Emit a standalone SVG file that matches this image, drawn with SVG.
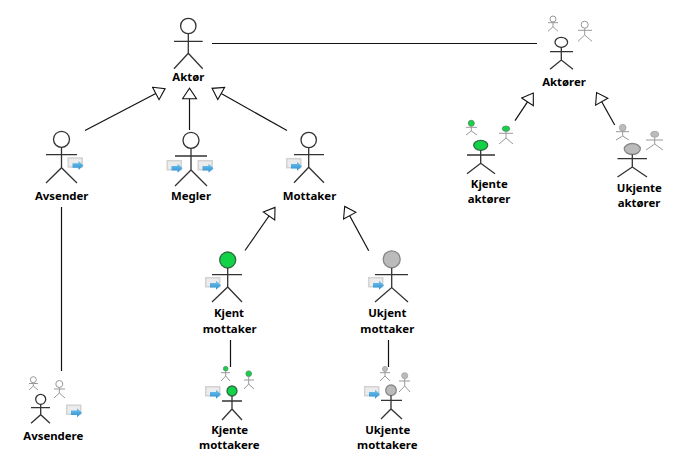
<svg xmlns="http://www.w3.org/2000/svg" width="693" height="467" viewBox="0 0 693 467">
<style>
text{font-family:"Noto Sans","Liberation Sans",Arial,sans-serif;font-weight:700;font-size:11.4px;fill:#000;text-anchor:middle}
.f{fill:none;stroke:#333;stroke-width:1.3}
.s{fill:none;stroke:#999;stroke-width:1}
.h{fill:#fff}
.k{fill:#12d247}
.u{fill:#bbb}
.s.u{stroke:#aaa}
.s.k{stroke:#5a9a6a}
.f.u{stroke:#888}
.f.k{stroke:#2f6a42}
.c{fill:none;stroke:#111;stroke-width:1.2}
.g{marker-end:url(#tri)}
</style>
<defs>
<linearGradient id="blue" x1="0" y1="0" x2="0" y2="1">
<stop offset="0" stop-color="#74c4ee"/>
<stop offset="1" stop-color="#2b8fd2"/>
</linearGradient>
<marker id="tri" markerUnits="userSpaceOnUse" markerWidth="14" markerHeight="18" refX="1" refY="8" orient="auto">
<path d="M1,1 L11.5,8 L1,15 Z" fill="#fff" stroke="#111" stroke-width="1.1"/>
</marker>
<g id="msg">
<rect x="0.7" y="0.7" width="14" height="9" fill="#ececec" stroke="#d2d2d2" stroke-width="1.5"/>
<path d="M5,6 H11 V3.7 L16,8.2 L11,12.7 V10.5 H5 Z" fill="url(#blue)"/>
</g>
</defs>
<g id="connectors">
<path class="c" d="M212,43.5 H537"/>
<path class="c g" d="M85,130.5 L155.8,93.5"/>
<path class="c g" d="M189.5,130 V98.7"/>
<path class="c g" d="M287,130.5 L221.2,93.5"/>
<path class="c g" d="M245,250.5 L269,216"/>
<path class="c g" d="M368.7,250.7 L349.7,215.7"/>
<path class="c g" d="M515,120.7 L527.5,101.8"/>
<path class="c g" d="M614.7,125 L601.7,101.7"/>
<path class="c" d="M61.5,207 V371"/>
<path class="c" d="M230.5,340 V367"/>
<path class="c" d="M388.5,340 V367"/>
</g>
<g id="aktor">
<circle class="f h" cx="188.3" cy="26" r="7.7"/>
<path class="f" d="M188.3,33.7 V53.3 M174,41.3 H202.7 M174,68.7 L188.3,53.3 L202.7,68.7"/>
<text x="188.3" y="81">Aktør</text>
</g>
<g id="avsender">
<circle class="f h" cx="61.5" cy="139.3" r="8"/>
<path class="f" d="M61.5,147.3 V167.7 M46,154.7 H77 M46,183 L61.5,167.7 L77,183"/>
<use href="#msg" x="67.5" y="157.3"/>
<text x="61.7" y="200">Avsender</text>
</g>
<g id="megler">
<circle class="f h" cx="191" cy="140.3" r="8"/>
<path class="f" d="M191,148.3 V170 M175,156 H207 M175,186 L191,170 L207,186"/>
<use href="#msg" x="166.5" y="160"/>
<use href="#msg" x="197.5" y="160"/>
<text x="191" y="200">Megler</text>
</g>
<g id="mottaker">
<circle class="f h" cx="308.7" cy="140" r="7.7"/>
<path class="f" d="M308.7,147.7 V167.3 M294,154.7 H324 M294,182.7 L308.7,167.3 L324,182.7"/>
<use href="#msg" x="286" y="158"/>
<text x="309.5" y="200">Mottaker</text>
</g>
<g id="kjent-mottaker">
<circle class="f k" cx="227.7" cy="260" r="8"/>
<path class="f" d="M227.7,268 V287 M212,274.7 H242 M212,302 L227.7,287 L242,302"/>
<use href="#msg" x="205" y="277"/>
<text x="229" y="317">Kjent</text>
<text x="229.7" y="332.7">mottaker</text>
</g>
<g id="ukjent-mottaker">
<circle class="f u" cx="391.7" cy="259.3" r="8.5"/>
<path class="f" d="M391.7,267.8 V287.5 M375,274.7 H408 M375,302 L391.7,287.5 L408,302"/>
<use href="#msg" x="368" y="277"/>
<text x="387.3" y="317">Ukjent</text>
<text x="387.3" y="333">mottaker</text>
</g>
<g id="avsendere">
<circle class="s h" cx="33.3" cy="379.7" r="3"/>
<path class="s" d="M33.3,382.7 V386 M29,383.5 H38 M29,390 L33.3,386 L38,390"/>
<circle class="s h" cx="59.3" cy="384" r="3.5"/>
<path class="s" d="M59.3,387.5 V393 M54,389 H65 M54,398 L59.3,393 L65,398"/>
<circle class="f h" cx="40.7" cy="399.3" r="5"/>
<path class="f" d="M40.7,404.3 V414.7 M31,407.7 H50 M31,423.3 L40.7,414.7 L50,423.3"/>
<use href="#msg" x="66" y="404.5"/>
<text x="53.3" y="439.7">Avsendere</text>
</g>
<g id="kjente-mottakere">
<circle class="s k" cx="225.7" cy="368.7" r="2.3"/>
<path class="s" d="M225.7,371 V376 M221,372.7 H230 M221,381 L225.7,376 L230,381"/>
<circle class="s k" cx="248.7" cy="373.7" r="2.8"/>
<path class="s" d="M248.7,376.5 V384 M244,380 H254 M244,389 L248.7,384 L254,389"/>
<circle class="f k" cx="232" cy="391" r="5"/>
<path class="f" d="M232,396 V409 M222,401 H242 M222,420 L232,409 L242,420"/>
<use href="#msg" x="205" y="386"/>
<text x="229.7" y="434.3">Kjente</text>
<text x="229.3" y="449">mottakere</text>
</g>
<g id="ukjente-mottakere">
<circle class="s u" cx="385" cy="369" r="2.5"/>
<path class="s" d="M385,371.5 V376 M380,372.7 H390 M380,381 L385,376 L390,381"/>
<circle class="s u" cx="404.7" cy="375.7" r="3"/>
<path class="s" d="M404.7,378.7 V386 M399,381 H410 M399,392 L404.7,386 L410,392"/>
<circle class="f u" cx="391" cy="390.3" r="5.3"/>
<path class="f" d="M391,395.6 V409 M381,400.3 H402 M381,419 L391,409 L402,419"/>
<use href="#msg" x="364" y="386"/>
<text x="387.7" y="434.3">Ukjente</text>
<text x="387.3" y="449">mottakere</text>
</g>
<g id="aktorer">
<circle class="s h" cx="553" cy="19" r="3"/>
<path class="s" d="M553,22 V26.7 M548,22.7 H558 M548,31.3 L553,26.7 L558,31.3"/>
<circle class="s h" cx="584.7" cy="24.7" r="3.5"/>
<path class="s" d="M584.7,28.2 V35 M578,30.3 H592 M578,41.3 L584.7,35 L592,41.3"/>
<ellipse class="f h" cx="561.3" cy="42.3" rx="6.3" ry="5"/>
<path class="f" d="M561.3,47.3 V60 M550,51.7 H573 M550,69.3 L561.3,60 L573,69.3"/>
<text x="564" y="86">Aktører</text>
</g>
<g id="kjente-aktorer">
<circle class="s k" cx="471.3" cy="123.3" r="3"/>
<path class="s" d="M471.3,126.3 V131 M466,127.3 H477 M466,135 L471.3,131 L477,135"/>
<ellipse class="s k" cx="506" cy="128.7" rx="3.7" ry="2.7"/>
<path class="s" d="M506,131.4 V138 M499,133.3 H513 M499,144 L506,138 L513,144"/>
<ellipse class="f k" cx="480.7" cy="145.3" rx="7" ry="5"/>
<path class="f" d="M480.7,150.3 V163.3 M467,155 H495 M467,173.7 L480.7,163.3 L495,173.7"/>
<text x="489.3" y="188">Kjente</text>
<text x="489" y="203">aktører</text>
</g>
<g id="ukjente-aktorer">
<circle class="s u" cx="622.7" cy="127.7" r="3.3"/>
<path class="s" d="M622.7,131 V136 M616,131.7 H629 M616,140 L622.7,136 L629,140"/>
<ellipse class="s u" cx="654.7" cy="134.3" rx="4" ry="3"/>
<path class="s" d="M654.7,137.3 V144 M646,140 H663 M646,150 L654.7,144 L663,150"/>
<ellipse class="f u" cx="632.3" cy="149" rx="8" ry="5.5"/>
<path class="f" d="M632.3,154.5 V167 M617.5,158.7 H647 M617.5,177 L632.3,167 L647,177"/>
<text x="639.3" y="192">Ukjente</text>
<text x="639" y="207">aktører</text>
</g>
</svg>
